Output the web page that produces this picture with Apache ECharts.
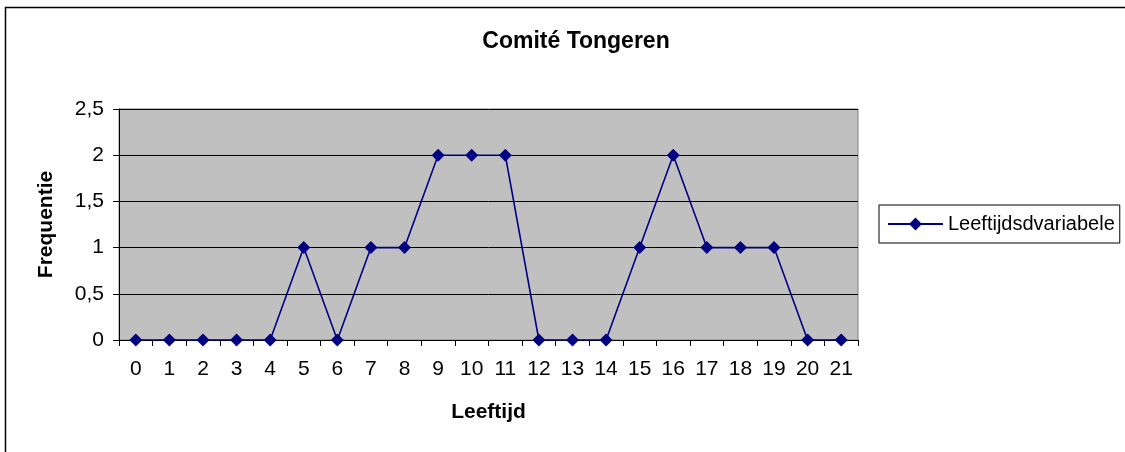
<!DOCTYPE html>
<html><head><meta charset="utf-8">
<script src="https://cdn.jsdelivr.net/npm/echarts@6/dist/echarts.min.js"></script>
<style>html,body{margin:0;padding:0;background:#fff}#c{width:1125px;height:452px}</style>
</head><body><div id="c"></div>
<script>
const categories = ['0','1','2','3','4','5','6','7','8','9','10','11','12','13','14','15','16','17','18','19','20','21'];
const values = [0,0,0,0,0,1,0,1,1,2,2,2,0,0,0,1,2,1,1,1,0,0];
const yTicks = [0, 0.5, 1, 1.5, 2, 2.5];
const seriesName = 'Leeftijdsdvariabele';
const F = '"Liberation Sans", Arial, sans-serif';
const chart = echarts.init(document.getElementById('c'));
chart.setOption({
  animation: false,
  backgroundColor: '#fff',
  textStyle: { fontFamily: F },
  title: { text: 'Comité Tongeren', left: 571, top: 25, textAlign: 'center',
    textStyle: { fontFamily: F, fontSize: 23, fontWeight: 'bold', color: '#000' } },
  graphic: [
    { type: 'line', shape: { x1: 5, y1: 7.5, x2: 1125, y2: 7.5 }, style: { stroke: '#000', lineWidth: 1.5 }, silent: true },
    { type: 'line', shape: { x1: 5.5, y1: 7, x2: 5.5, y2: 452 }, style: { stroke: '#000', lineWidth: 1.5 }, silent: true }
  ],
  legend: { show: true, left: 879, top: 205, padding: [8, 5, 8, 8],
    borderColor: '#000', borderWidth: 1, itemWidth: 55, itemHeight: 16, itemGap: 4,
    textStyle: { fontFamily: F, fontSize: 20, color: '#000', lineHeight: 22 },
    data: [seriesName] },
  grid: { left: 119, right: 267, top: 109, bottom: 112, show: true, backgroundColor: '#C0C0C0', borderColor: '#808080', borderWidth: 1 },
  xAxis: { type: 'category', data: categories, boundaryGap: true,
    name: 'Leeftijd', nameLocation: 'middle', nameGap: 62,
    nameTextStyle: { fontFamily: F, fontSize: 21, fontWeight: 'bold', color: '#000' },
    axisLine: { lineStyle: { color: '#000' } },
    axisTick: { show: true, inside: false, length: 6, alignWithLabel: false, lineStyle: { color: '#000' } },
    axisLabel: { fontFamily: F, fontSize: 21, color: '#000', margin: 19 },
    splitLine: { show: false } },
  yAxis: { type: 'value', min: 0, max: 2.5, interval: 0.5,
    name: 'Frequentie', nameLocation: 'middle', nameGap: 62, nameRotate: 90,
    nameTextStyle: { fontFamily: F, fontSize: 21, fontWeight: 'bold', color: '#000' },
    axisLine: { show: true, lineStyle: { color: '#000' } },
    axisTick: { show: true, inside: false, length: 6, lineStyle: { color: '#000' } },
    axisLabel: { fontFamily: F, fontSize: 21, color: '#000', margin: 15,
      formatter: v => yTicks.includes(v) ? String(v).replace('.', ',') : '' },
    splitLine: { show: true, lineStyle: { color: '#000', width: 1 } } },
  series: [{ name: seriesName, type: 'line', data: values,
    symbol: 'diamond', symbolSize: 13, showAllSymbol: true,
    lineStyle: { color: '#000080', width: 1.6 },
    itemStyle: { color: '#000080' } }]
});
</script></body></html>
